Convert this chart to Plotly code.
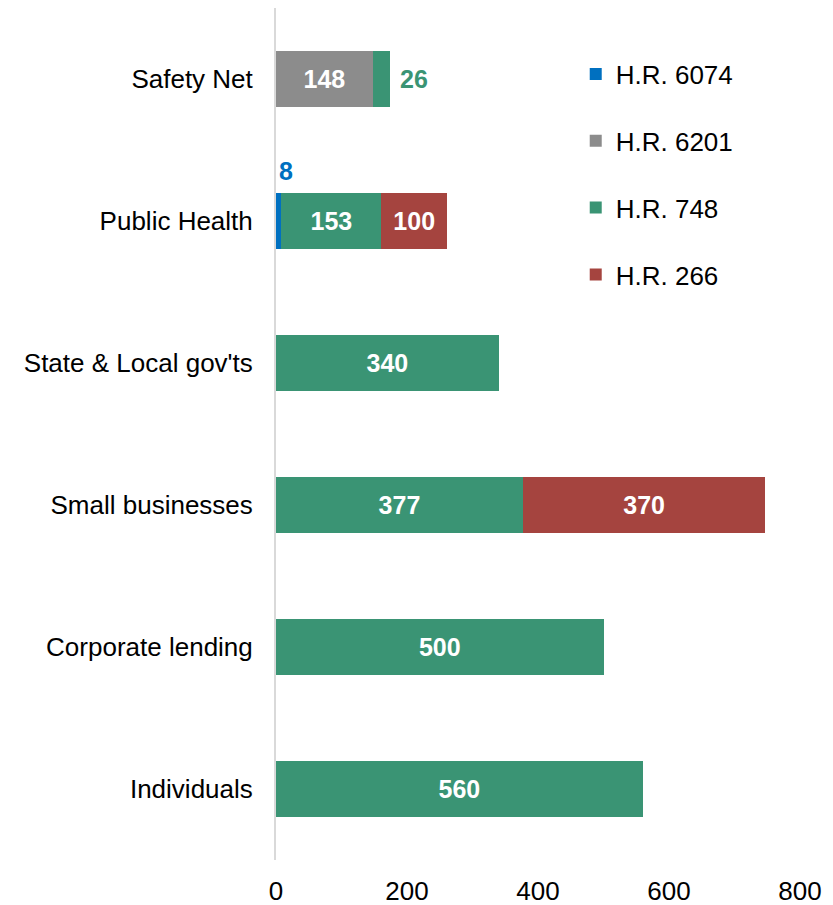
import plotly.graph_objects as go

categories = ["Safety Net", "Public Health", "State & Local gov'ts",
              "Small businesses", "Corporate lending", "Individuals"]

series_names = ["H.R. 6074", "H.R. 6201", "H.R. 748", "H.R. 266"]
hr6074 = [None, 8, None, None, None, None]
hr6201 = [148, None, None, None, None, None]
hr748 = [26, 153, 340, 377, 500, 560]
hr266 = [None, 100, None, 370, None, None]

colors = ["#0070C0", "#8C8C8C", "#3A9474", "#A5443F"]
x_ticks = [0, 200, 400, 600, 800]

# labels that sit outside their bars (segment too thin for inside text)
outside_labels = {("H.R. 748", "Safety Net"), ("H.R. 6074", "Public Health")}

FONT = "Liberation Sans, Arial, sans-serif"
SIZE = 26

fig = go.Figure()
for name, vals, col in zip(series_names, [hr6074, hr6201, hr748, hr266], colors):
    texts = []
    for cat, v in zip(categories, vals):
        if v is None or (name, cat) in outside_labels:
            texts.append("")
        else:
            texts.append(str(v))
    fig.add_trace(go.Bar(
        name=name, y=categories, x=vals, orientation="h",
        marker=dict(color=col, line=dict(width=0)),
        text=texts, textposition="inside", insidetextanchor="middle",
        textfont=dict(family=FONT, size=25, color="white", weight="bold"),
        legendgroup=name, width=0.4,
    ))

# green "26" to the right of the Safety Net stack
sn = categories.index("Safety Net")
sn_total = sum(v for v in (hr6074[sn], hr6201[sn], hr748[sn], hr266[sn]) if v)
fig.add_annotation(x=sn_total, y="Safety Net", text=f"<b>{hr748[sn]}</b>",
                   showarrow=False, xanchor="left", xshift=8,
                   font=dict(family=FONT, size=25, color=colors[2]))
# blue "8" above the thin Public Health segment
ph = categories.index("Public Health")
fig.add_annotation(x=hr6074[ph], y="Public Health", text=f"<b>{hr6074[ph]}</b>",
                   showarrow=False, xanchor="center", xshift=5, yshift=50,
                   font=dict(family=FONT, size=25, color=colors[0]))

fig.update_layout(
    barmode="stack",
    width=833, height=905,
    margin=dict(l=276, r=33, t=8, b=45, autoexpand=False),
    paper_bgcolor="white", plot_bgcolor="white",
    font=dict(family=FONT, size=SIZE, color="#000000"),
    showlegend=True,
    legend=dict(x=0.572, y=0.95, xanchor="left", yanchor="top",
                traceorder="grouped", tracegroupgap=30,
                font=dict(family=FONT, size=SIZE, color="#000000"),
                bgcolor="rgba(0,0,0,0)"),
    xaxis=dict(range=[0, 800], tickvals=x_ticks, showgrid=False, zeroline=False,
               showline=False, ticks="outside", ticklen=8, automargin=False,
               tickcolor="rgba(0,0,0,0)",
               tickfont=dict(family=FONT, size=SIZE, color="#000000")),
    yaxis=dict(categoryorder="array", categoryarray=categories,
               range=[5.5, -0.5], showgrid=False, zeroline=False,
               showline=True, linecolor="#D9D9D9", linewidth=2, automargin=False,
               ticks="outside", ticklen=16, tickcolor="rgba(0,0,0,0)",
               tickfont=dict(family=FONT, size=SIZE, color="#000000")),
)

fig.write_html("out.html")
